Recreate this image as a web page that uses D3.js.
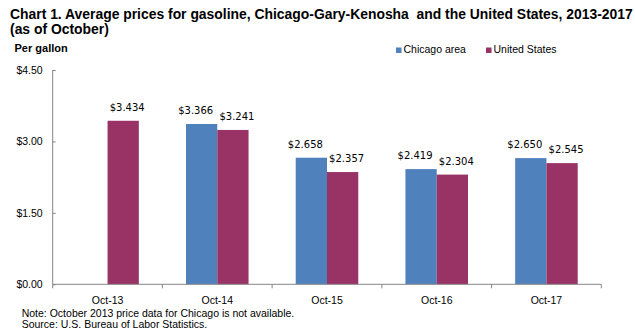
<!DOCTYPE html>
<html lang="en">
<head>
    <meta charset="UTF-8">
    <title>Chart 1. Average prices for gasoline</title>
    <script src="https://d3js.org/d3.v7.min.js"></script>
    <style>
        body { margin: 0; background: #fff; }
        text { font-family: "Liberation Sans", Arial, sans-serif; fill: #000; }
        text.value { font-family: "DejaVu Sans", sans-serif; }
        .axis path, .axis line { stroke: #868686; }
    </style>
</head>
<body>
    <script>
        // data
        const months = ["Oct-13", "Oct-14", "Oct-15", "Oct-16", "Oct-17"];
        const seriesNames = ["Chicago area", "United States"];
        const chicago = [null, 3.366, 2.658, 2.419, 2.650];
        const unitedStates = [3.434, 3.241, 2.357, 2.304, 2.545];
        const yTicks = [0, 1.5, 3, 4.5];
        const colors = ["#4F81BD", "#993366"];

        const width = 635, height = 336;
        const svg = d3.select("body").append("svg")
            .attr("width", width)
            .attr("height", height);

        const x0 = d3.scaleBand()
            .domain(months)
            .range([52.7, 601.3])
            .paddingInner(0.43)
            .paddingOuter(0.215);

        const x1 = d3.scaleBand()
            .domain(seriesNames)
            .range([0, x0.bandwidth()]);

        const y = d3.scaleLinear()
            .domain([0, 4.5])
            .range([284.3, 70]);

        // title, two lines
        const titleLines = ["Chart 1. Average prices for gasoline, Chicago-Gary-Kenosha  and the United States, 2013-2017",
                            "(as of October)"];
        titleLines.forEach((t, i) => {
            svg.append("text")
                .attr("x", 10).attr("y", 19 + i * 15)
                .attr("font-weight", "bold")
                .attr("font-size", "13.9px")
                .style("white-space", "pre")
                .text(t);
        });

        svg.append("text")
            .attr("x", 14.5).attr("y", 51.7)
            .attr("font-weight", "bold")
            .attr("font-size", "11px")
            .text("Per gallon");

        // legend
        const legendX = [396, 486];
        seriesNames.forEach((name, i) => {
            svg.append("rect")
                .attr("x", legendX[i]).attr("y", 47.5)
                .attr("width", 5.5).attr("height", 5.5)
                .attr("fill", colors[i]);
            svg.append("text")
                .attr("x", legendX[i] + 7.5).attr("y", 53)
                .attr("font-size", "10.5px")
                .text(name);
        });

        // bars
        const rows = months.map((m, i) => ({ month: m, values: [chicago[i], unitedStates[i]] }));
        const labelShift = [-6, 4];

        const group = svg.append("g")
            .selectAll("g")
            .data(rows)
            .enter().append("g")
            .attr("transform", d => `translate(${x0(d.month)},0)`);

        const cells = group.selectAll("g")
            .data(d => d.values.map((v, i) => ({ name: seriesNames[i], value: v, i: i })).filter(d => d.value !== null))
            .enter().append("g");

        cells.append("rect")
            .attr("x", d => x1(d.name))
            .attr("y", d => y(d.value))
            .attr("width", x1.bandwidth())
            .attr("height", d => y(0) - y(d.value))
            .attr("fill", d => colors[d.i]);

        cells.append("text")
            .attr("class", "value")
            .attr("x", d => x1(d.name) + x1.bandwidth() / 2 + labelShift[d.i])
            .attr("y", d => y(d.value) - 9.7)
            .attr("text-anchor", "middle")
            .attr("font-size", "10px")
            .text(d => "$" + d3.format(".3f")(d.value));

        // y axis
        const yAxis = svg.append("g")
            .attr("class", "axis")
            .attr("transform", "translate(52.7,0)")
            .call(d3.axisLeft(y).tickValues(yTicks).tickSize(-3).tickPadding(10)
                .tickFormat(d => "$" + d3.format(".2f")(d)));
        yAxis.select(".domain").attr("d", `M0,${y(4.5)}V${y(0)}`);
        yAxis.selectAll("text").attr("font-size", "10.5px").attr("fill", "#000");

        // x axis
        const xAxis = svg.append("g")
            .attr("class", "axis")
            .attr("transform", `translate(0,${y(0)})`)
            .call(d3.axisBottom(x0).tickSize(0).tickPadding(12));
        xAxis.select(".domain").attr("d", `M${x0.range()[0]},0H${x0.range()[1]}`);
        xAxis.selectAll("text").attr("font-size", "10.5px").attr("fill", "#000");
        // category boundary ticks
        xAxis.selectAll(".edge")
            .data(d3.range(months.length + 1))
            .enter().append("line")
            .attr("x1", i => x0.range()[0] + i * x0.step())
            .attr("x2", i => x0.range()[0] + i * x0.step())
            .attr("y1", 0).attr("y2", 4)
            .attr("stroke", "#868686");

        // notes
        const notes = ["Note: October 2013 price data for Chicago is not available.",
                       "Source: U.S. Bureau of Labor Statistics."];
        notes.forEach((t, i) => {
            svg.append("text")
                .attr("x", 21.7).attr("y", 316.7 + i * 11.6)
                .attr("font-size", "10.5px")
                .text(t);
        });
    </script>
</body>
</html>
